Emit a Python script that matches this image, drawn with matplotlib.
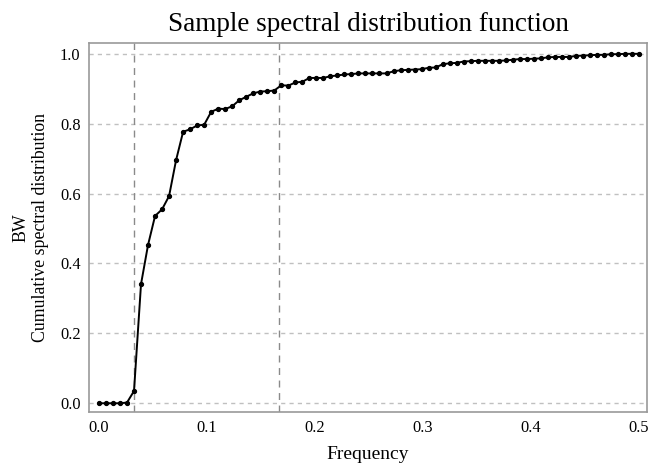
import numpy as np
import matplotlib
matplotlib.use('Agg')
import matplotlib.pyplot as plt

# Fourier frequencies j/154, j = 0..77
n_obs = 154
freq = np.arange(78) / n_obs
cum_spec = [
    0.000, 0.000, 0.000, 0.000, 0.002, 0.035, 0.341, 0.453, 0.536, 0.555,
    0.593, 0.696, 0.777, 0.784, 0.795, 0.797, 0.834, 0.843, 0.842, 0.850,
    0.867, 0.877, 0.887, 0.892, 0.893, 0.895, 0.910, 0.909, 0.918, 0.920,
    0.931, 0.931, 0.931, 0.936, 0.938, 0.941, 0.942, 0.944, 0.944, 0.944,
    0.944, 0.944, 0.950, 0.953, 0.954, 0.955, 0.956, 0.960, 0.961, 0.970,
    0.973, 0.974, 0.978, 0.979, 0.980, 0.980, 0.980, 0.980, 0.981, 0.983,
    0.985, 0.985, 0.986, 0.987, 0.990, 0.991, 0.991, 0.991, 0.994, 0.995,
    0.996, 0.997, 0.997, 0.999, 0.999, 1.000, 1.000, 1.000,
]
bw_lines = [0.0325, 1 / 6]

plt.rcParams['font.family'] = ['Liberation Serif', 'DejaVu Serif']

fig = plt.figure(figsize=(6.49, 4.70), dpi=100)
ax = fig.add_axes([89 / 649, 1 - 412 / 470, (647 - 89) / 649, (412 - 43) / 470])

# horizontal grid
for yv in [0.0, 0.2, 0.4, 0.6, 0.8, 1.0]:
    ax.axhline(yv, color='#c0c0c0', lw=1.0, ls=(0, (3, 3)), zorder=0)
for xv in bw_lines:
    ax.axvline(xv, color='#8a8a8a', lw=1.0, ls=(0, (5, 4)), zorder=1)

ax.plot(freq, cum_spec, color='black', lw=1.4, marker='o', markersize=2.8, zorder=3)

ax.set_xlim(-0.0092, 0.5074)
ax.set_ylim(-0.025, 1.031)
ax.set_xticks([0.0, 0.1, 0.2, 0.3, 0.4, 0.5])
ax.set_yticks([0.0, 0.2, 0.4, 0.6, 0.8, 1.0])
ax.tick_params(labelsize=11.8, length=0, pad=6)
for sp in ax.spines.values():
    sp.set_color('#999999')
    sp.set_linewidth(1.2)

ax.set_title('Sample spectral distribution function', fontsize=19.5, pad=9)
ax.set_xlabel('Frequency', fontsize=14, labelpad=7)
ax.set_ylabel('BW\nCumulative spectral distribution', fontsize=12.8, labelpad=8)

fig.savefig('out.png', dpi=100)
